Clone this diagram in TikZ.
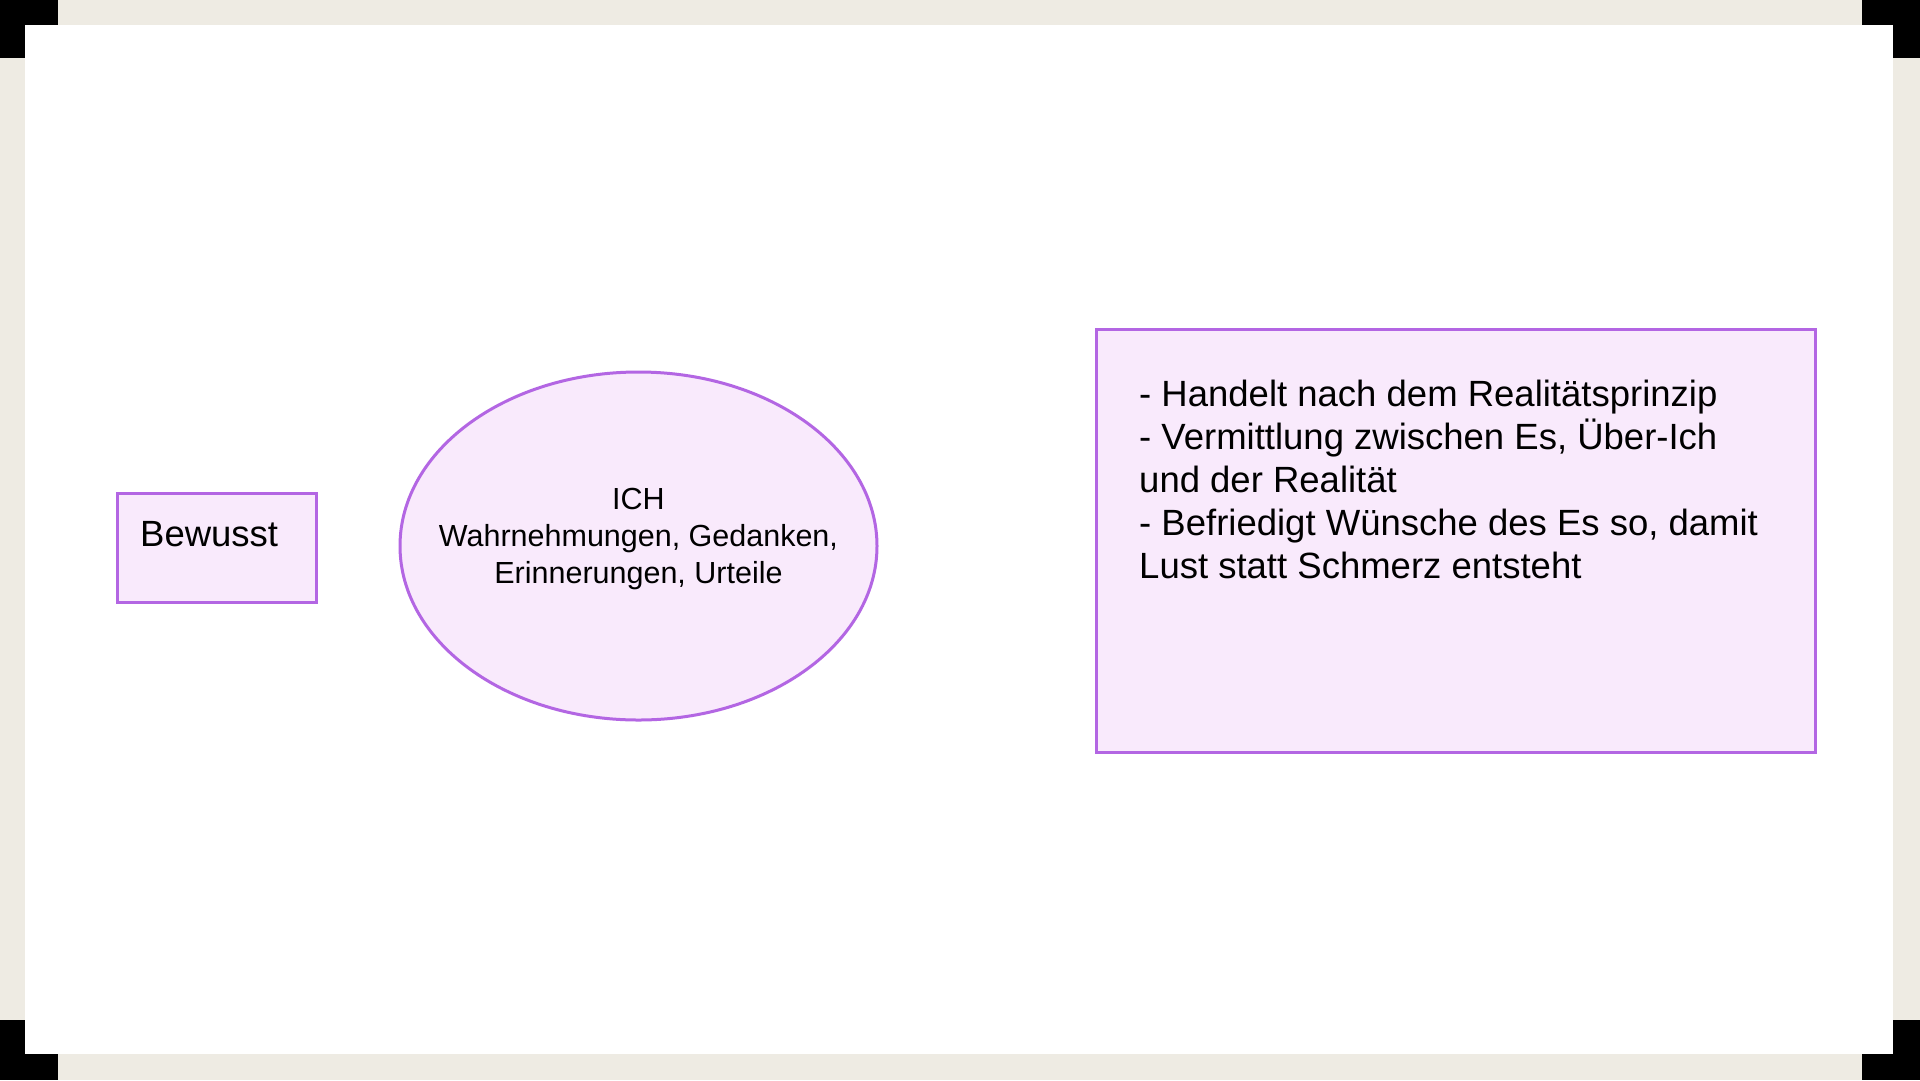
\documentclass[tikz,border=0pt]{standalone}
\usepackage{fontspec}
\setmainfont{Liberation Sans}
\usetikzlibrary{shapes.geometric}
\definecolor{frameBeige}{HTML}{EEEBE3}
\definecolor{violetLine}{HTML}{B366E3}
\definecolor{violetFill}{HTML}{F9EAFC}
\tikzset{
  shapebox/.style={draw=violetLine, fill=violetFill, line width=3pt, inner sep=0pt},
  bodytext/.style={font=\fontsize{36.5}{43}\selectfont, inner sep=0pt, text=black},
  smalltext/.style={font=\fontsize{30.5}{37}\selectfont, inner sep=0pt, text=black}
}
\begin{document}
\begin{tikzpicture}[x=1pt,y=-1pt]
  % frame
  \fill[frameBeige] (0,0) rectangle (1920,1080);
  \fill[black] (0,0) rectangle (58,58);
  \fill[black] (1862,0) rectangle (1920,58);
  \fill[black] (0,1020) rectangle (58,1080);
  \fill[black] (1862,1020) rectangle (1920,1080);
  \fill[white] (25,25) rectangle (1893,1054);
  \useasboundingbox (0,0) rectangle (1920,1080);

  % Bewusst box
  \node[shapebox, rectangle, minimum width=199pt, minimum height=109pt] (bewbox) at (216.5,547.5) {};
  \node[bodytext, anchor=base west] (bewtext) at (140,546) {Bewusst};

  % ICH ellipse
  \node[shapebox, ellipse, minimum width=477pt, minimum height=348pt] (ich) at (638.5,546) {};
  \node[smalltext, anchor=base, align=center] (ichtext) at (638.5,583)
    {ICH\\Wahrnehmungen, Gedanken,\\Erinnerungen, Urteile};

  % description box
  \node[shapebox, rectangle, minimum width=719pt, minimum height=423pt] (desc) at (1455.5,540.5) {};
  \node[bodytext, anchor=base west, align=left] (desctext) at (1139,578.5)
    {- Handelt nach dem Realitätsprinzip\\
     - Vermittlung zwischen Es, Über-Ich\\
     und der Realität\\
     - Befriedigt Wünsche des Es so, damit\\
     Lust statt Schmerz entsteht};
\end{tikzpicture}
\end{document}
